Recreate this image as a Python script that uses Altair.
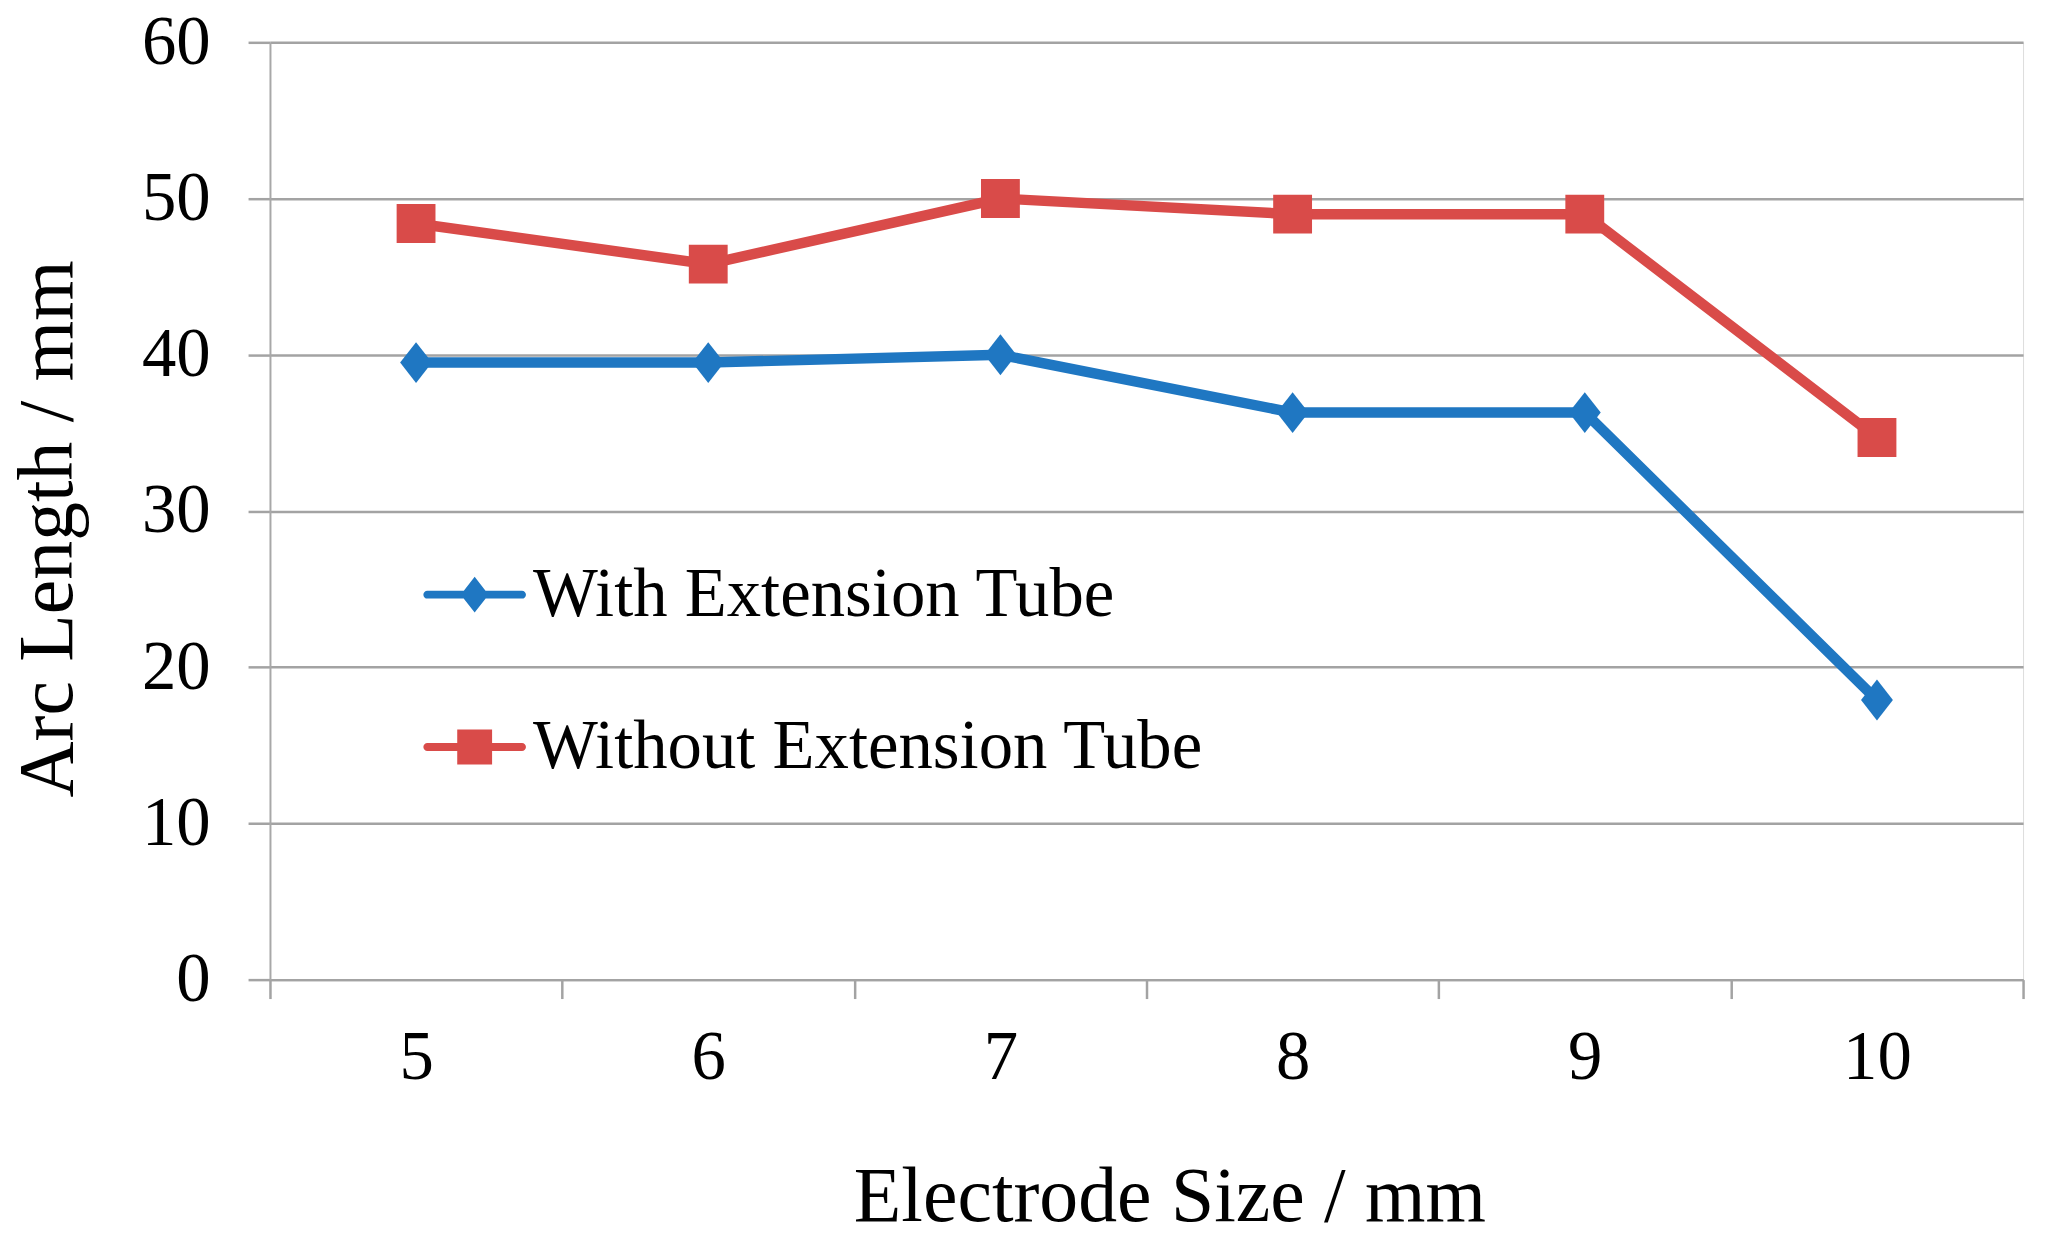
import altair as alt
import pandas as pd

# ---- data ----
sizes = ["5", "6", "7", "8", "9", "10"]
series_names = ["With Extension Tube", "Without Extension Tube"]
with_tube = [39.5, 39.5, 40.0, 36.3, 36.3, 17.9]
without_tube = [48.4, 45.8, 50.0, 49.0, 49.0, 34.7]
y_ticks = [0, 10, 20, 30, 40, 50, 60]
colors = ["#1f77c2", "#d94b49"]

rows = []
for s, v in zip(sizes, with_tube):
    rows.append({"size": s, "arc": v, "series": series_names[0]})
for s, v in zip(sizes, without_tube):
    rows.append({"size": s, "arc": v, "series": series_names[1]})
df = pd.DataFrame(rows)

FONT = "Liberation Serif"
GRID = "#a3a3a3"

# marker shapes (unit paths)
diamond = "M0,-1.025L0.8,0L0,1.025L-0.8,0Z"
square = "M-0.975,-0.975H0.975V0.975H-0.975Z"
bar = "M-2.375,-0.2H2.375A0.2,0.2 0 0 1 2.375,0.2H-2.375A0.2,0.2 0 0 1 -2.375,-0.2Z"
leg_d = bar + "M0,-0.9L0.7,0L0,0.9L-0.7,0Z"
leg_s = bar + "M-0.875,-0.875H0.875V0.875H-0.875Z"

x = alt.X(
    "size:O",
    sort=sizes,
    scale=alt.Scale(type="band", paddingInner=0, paddingOuter=0),
    axis=alt.Axis(
        title="Electrode Size / mm",
        labelAngle=0,
        tickBand="extent",
        grid=False,
        tickSize=19,
        tickColor=GRID,
        tickWidth=2.5,
        domainColor=GRID,
        domainWidth=2.5,
        labelFont=FONT,
        labelFontSize=69,
        labelColor="black",
        labelBaseline="alphabetic",
        labelPadding=80,
        titleFont=FONT,
        titleFontSize=78,
        titleFontWeight="normal",
        titleColor="black",
        titleX=903,
        titleY=242,
        titleBaseline="alphabetic",
        titleAlign="center",
    ),
)

y = alt.Y(
    "arc:Q",
    scale=alt.Scale(domain=[0, 60], nice=False, zero=True),
    axis=alt.Axis(
        title="Arc Length / mm",
        values=y_ticks,
        grid=True,
        gridColor=GRID,
        gridWidth=2.5,
        tickSize=22,
        tickColor=GRID,
        tickWidth=2.5,
        domainColor="#a8a8a8",
        domainWidth=2,
        labelFont=FONT,
        labelFontSize=69,
        labelColor="black",
        labelPadding=38,
        titleFont=FONT,
        titleFontSize=78,
        titleFontWeight="normal",
        titleColor="black",
        titleX=-199,
        titleY=488,
        titleAngle=270,
        titleBaseline="alphabetic",
        titleAlign="center",
    ),
)

color_scale = alt.Scale(domain=series_names, range=colors)
legend = alt.Legend(
    title=None,
    orient="none",
    legendX=171,
    legendY=520,
    padding=0,
    symbolSize=1600,
    symbolStrokeWidth=0,
    symbolOpacity=1,
    labelFont=FONT,
    labelFontSize=69,
    labelColor="black",
    labelOffset=24,
    labelLimit=1000,
    rowPadding=83,
)

base = alt.Chart(df)

lines = base.mark_line(strokeWidth=10.5).encode(
    x=x, y=y, color=alt.Color("series:N", scale=color_scale, legend=None)
)

pts_with = (
    base.transform_filter(alt.datum.series == series_names[0])
    .mark_point(filled=True, size=1600, opacity=1, strokeWidth=0, shape=diamond)
    .encode(x=x, y=y, color=alt.Color("series:N", scale=color_scale, legend=None))
)
pts_without = (
    base.transform_filter(alt.datum.series == series_names[1])
    .mark_point(filled=True, size=1600, opacity=1, strokeWidth=0, shape=square)
    .encode(x=x, y=y, color=alt.Color("series:N", scale=color_scale, legend=None))
)

# legend-only layer (no rows drawn): line + marker symbols
legend_layer = (
    base.transform_filter("false")
    .mark_point(filled=True, size=1600, opacity=1, strokeWidth=0)
    .encode(
        x=x,
        y=y,
        color=alt.Color("series:N", scale=color_scale, legend=legend),
        shape=alt.Shape(
            "series:N",
            scale=alt.Scale(domain=series_names, range=[leg_d, leg_s]),
            legend=legend,
        ),
    )
)

chart = (
    alt.layer(lines, pts_with, pts_without, legend_layer)
    .resolve_legend(color="independent", shape="independent")
    .properties(
        width=1760,
        height=941,
        autosize=alt.AutoSizeParams(type="none"),
        padding={"left": 263, "top": 32, "right": 15, "bottom": 271},
    )
    .configure_view(strokeWidth=0)
    .configure(background="white")
)

chart.save("out.html", embed_options={"renderer": "svg", "actions": False})
